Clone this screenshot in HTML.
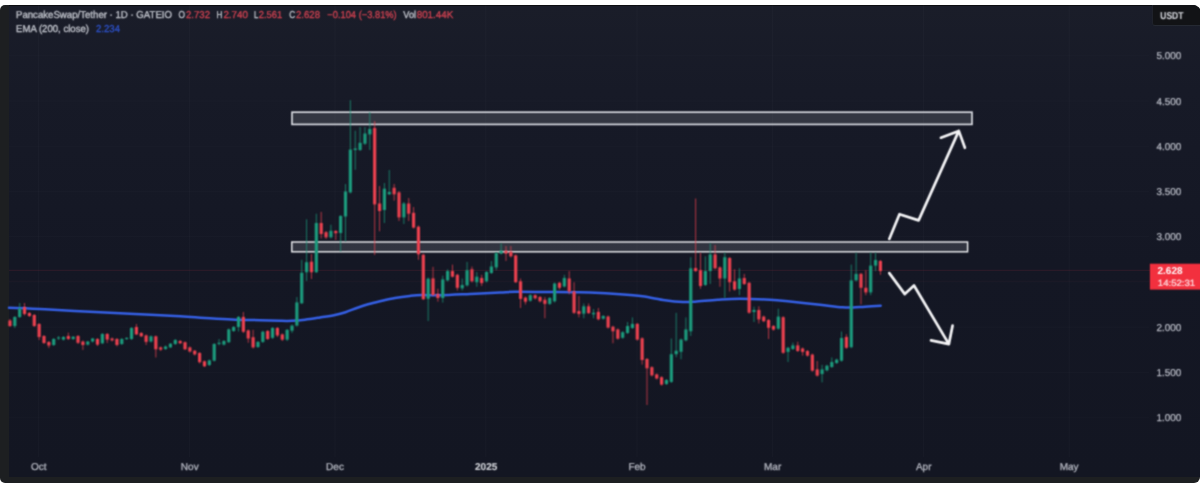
<!DOCTYPE html>
<html><head><meta charset="utf-8"><title>chart</title>
<style>
html,body{margin:0;padding:0;background:#fff;}
body{width:1200px;height:486px;overflow:hidden;position:relative;font-family:"Liberation Sans",sans-serif;}
#frame{position:absolute;left:0;top:5px;width:1200px;height:478px;background:#1d1f21;border-radius:5px 8px 6px 5px;overflow:hidden;}
#chart{position:absolute;left:8.8px;top:0;width:1192px;height:472.4px;background:linear-gradient(#1a1d29 0%,#171a27 18%,#141724 55%,#131622 100%);border-top:1.2px solid #0c0d11;box-sizing:border-box;}
svg{position:absolute;left:0;top:0;}
#txt{position:absolute;left:0;top:0;width:1200px;height:486px;filter:url(#b);}
</style></head><body>
<div id="frame"><div id="chart"></div></div>
<svg width="1200" height="486" viewBox="0 0 1200 486" shape-rendering="geometricPrecision">
<defs><filter id="b" x="0" y="0" width="1200" height="486" filterUnits="userSpaceOnUse" color-interpolation-filters="sRGB"><feConvolveMatrix order="3" kernelMatrix="1 2 1 2 6 2 1 2 1" divisor="18" edgeMode="duplicate"/></filter><filter id="c" x="0" y="0" width="1200" height="486" filterUnits="userSpaceOnUse" color-interpolation-filters="sRGB"><feConvolveMatrix order="3" kernelMatrix="1 2 1 2 4 2 1 2 1" divisor="16" edgeMode="duplicate"/></filter></defs>
<g><rect x="37.8" y="5" width="1" height="452" fill="#ffffff" fill-opacity="0.028"/><rect x="189.2" y="5" width="1" height="452" fill="#ffffff" fill-opacity="0.028"/><rect x="334.5" y="5" width="1" height="452" fill="#ffffff" fill-opacity="0.028"/><rect x="485.3" y="5" width="1" height="452" fill="#ffffff" fill-opacity="0.028"/><rect x="636.5" y="5" width="1" height="452" fill="#ffffff" fill-opacity="0.028"/><rect x="772.2" y="5" width="1" height="452" fill="#ffffff" fill-opacity="0.028"/><rect x="923.2" y="5" width="1" height="452" fill="#ffffff" fill-opacity="0.028"/><rect x="1068.7" y="5" width="1" height="452" fill="#ffffff" fill-opacity="0.028"/><rect x="9" y="55.3" width="1140" height="1" fill="#ffffff" fill-opacity="0.018"/><rect x="9" y="100.5" width="1140" height="1" fill="#ffffff" fill-opacity="0.018"/><rect x="9" y="145.7" width="1140" height="1" fill="#ffffff" fill-opacity="0.018"/><rect x="9" y="190.9" width="1140" height="1" fill="#ffffff" fill-opacity="0.018"/><rect x="9" y="236.1" width="1140" height="1" fill="#ffffff" fill-opacity="0.018"/><rect x="9" y="281.4" width="1140" height="1" fill="#ffffff" fill-opacity="0.018"/><rect x="9" y="326.6" width="1140" height="1" fill="#ffffff" fill-opacity="0.018"/><rect x="9" y="371.8" width="1140" height="1" fill="#ffffff" fill-opacity="0.018"/><rect x="9" y="416.7" width="1140" height="1" fill="#ffffff" fill-opacity="0.018"/></g>
<line x1="9" y1="270.3" x2="1150" y2="270.3" stroke="#5d2433" stroke-width="1" opacity="0.38"/>
<line x1="9" y1="281.2" x2="1150" y2="281.2" stroke="#4a2230" stroke-width="1" opacity="0.12"/>
<g filter="url(#b)">
<rect x="292" y="112.2" width="680" height="12.2" fill="#80848c" fill-opacity="0.27" stroke="#dfe1e8" stroke-width="1.6"/>
<rect x="291.8" y="242" width="675.8" height="9.8" fill="#80848c" fill-opacity="0.27" stroke="#f2f3f6" stroke-width="1.4"/>
<path d="M9,307.7 C15,307.95 31.5,308.52 45,309.2 C58.5,309.88 75,310.95 90,311.75 C105,312.55 120,313.25 135,314 C150,314.75 168.33,315.6 180,316.25 C191.67,316.9 196.33,317.38 205,317.9 C213.67,318.42 222.83,319.02 232,319.4 C241.17,319.78 252,319.97 260,320.2 C268,320.43 274.67,320.7 280,320.8 C285.33,320.9 287.83,320.98 292,320.8 C296.17,320.62 300.33,320.25 305,319.7 C309.67,319.15 315,318.28 320,317.5 C325,316.72 330.75,315.88 335,315 C339.25,314.12 341.75,313.42 345.5,312.2 C349.25,310.98 353.75,309.02 357.5,307.7 C361.25,306.38 364.25,305.37 368,304.3 C371.75,303.23 375.5,302.35 380,301.3 C384.5,300.25 390,298.9 395,298 C400,297.1 405.5,296.4 410,295.9 C414.5,295.4 417,295.1 422,295 C427,294.9 432,295.47 440,295.3 C448,295.13 460,294.47 470,294 C480,293.53 492.5,292.87 500,292.5 C507.5,292.13 507.5,291.88 515,291.8 C522.5,291.72 535,291.93 545,292 C555,292.07 567.5,292.12 575,292.2 C582.5,292.28 582.5,292.17 590,292.5 C597.5,292.83 611.25,293.57 620,294.2 C628.75,294.83 635,295.3 642.5,296.3 C650,297.3 658.25,299.25 665,300.2 C671.75,301.15 678,301.75 683,302 C688,302.25 689.25,302.07 695,301.7 C700.75,301.32 710,300.25 717.5,299.75 C725,299.25 731.25,298.7 740,298.7 C748.75,298.7 761.67,299.28 770,299.75 C778.33,300.22 781.67,300.67 790,301.5 C798.33,302.33 811.25,303.78 820,304.75 C828.75,305.72 837,306.84 842.5,307.3 C848,307.76 849.25,307.6 853,307.5 C856.75,307.4 860.38,306.98 865,306.7 C869.62,306.42 878.08,305.95 880.7,305.8" fill="none" stroke="#3560e6" stroke-width="2.5" stroke-linecap="round" stroke-linejoin="round"/>
</g>
<g filter="url(#c)">
<g opacity="0.75"><rect x="9.45" y="319" width="1" height="8" fill="#ea414f"/><rect x="14.31" y="316" width="1" height="12" fill="#1c9a7c"/><rect x="19.18" y="303" width="1" height="15" fill="#1c9a7c"/><rect x="24.04" y="303" width="1" height="12.5" fill="#ea414f"/><rect x="28.9" y="312" width="1" height="5" fill="#ea414f"/><rect x="33.77" y="314" width="1" height="13" fill="#ea414f"/><rect x="38.63" y="323" width="1" height="17" fill="#ea414f"/><rect x="43.49" y="335" width="1" height="9" fill="#ea414f"/><rect x="48.35" y="341" width="1" height="7" fill="#ea414f"/><rect x="53.22" y="338" width="1" height="8" fill="#1c9a7c"/><rect x="58.08" y="336" width="1" height="4" fill="#1c9a7c"/><rect x="62.94" y="336" width="1" height="4.5" fill="#1c9a7c"/><rect x="67.81" y="332.6" width="1" height="7.4" fill="#ea414f"/><rect x="72.67" y="336" width="1" height="4" fill="#1c9a7c"/><rect x="77.53" y="335" width="1" height="9" fill="#ea414f"/><rect x="82.4" y="340.5" width="1" height="9.5" fill="#ea414f"/><rect x="87.26" y="341" width="1" height="4.5" fill="#1c9a7c"/><rect x="92.12" y="338" width="1" height="4.5" fill="#1c9a7c"/><rect x="96.98" y="338" width="1" height="8" fill="#ea414f"/><rect x="101.85" y="333" width="1" height="11" fill="#1c9a7c"/><rect x="106.71" y="333" width="1" height="10" fill="#ea414f"/><rect x="111.57" y="337.5" width="1" height="4" fill="#ea414f"/><rect x="116.44" y="338" width="1" height="8.5" fill="#ea414f"/><rect x="121.3" y="338" width="1" height="7" fill="#1c9a7c"/><rect x="126.16" y="337" width="1" height="3" fill="#1c9a7c"/><rect x="131.03" y="327" width="1" height="13" fill="#1c9a7c"/><rect x="135.89" y="324" width="1" height="11" fill="#ea414f"/><rect x="140.75" y="332" width="1" height="5" fill="#ea414f"/><rect x="145.61" y="334.5" width="1" height="10.5" fill="#ea414f"/><rect x="150.48" y="335.5" width="1" height="7" fill="#1c9a7c"/><rect x="155.34" y="335.5" width="1" height="22" fill="#ea414f"/><rect x="160.2" y="346.5" width="1" height="4.5" fill="#ea414f"/><rect x="165.07" y="345.5" width="1" height="4.5" fill="#1c9a7c"/><rect x="169.93" y="343" width="1" height="5" fill="#1c9a7c"/><rect x="174.79" y="339" width="1" height="6" fill="#1c9a7c"/><rect x="179.66" y="340" width="1" height="4" fill="#ea414f"/><rect x="184.52" y="341.5" width="1" height="8.5" fill="#ea414f"/><rect x="189.38" y="346.5" width="1" height="6" fill="#ea414f"/><rect x="194.24" y="350" width="1" height="5.5" fill="#ea414f"/><rect x="199.11" y="352" width="1" height="11.5" fill="#ea414f"/><rect x="203.97" y="360.5" width="1" height="6.5" fill="#ea414f"/><rect x="208.83" y="359.5" width="1" height="6.5" fill="#1c9a7c"/><rect x="213.7" y="343" width="1" height="18.5" fill="#1c9a7c"/><rect x="218.56" y="339" width="1" height="6.5" fill="#1c9a7c"/><rect x="223.42" y="340" width="1" height="5.5" fill="#1c9a7c"/><rect x="228.28" y="328.5" width="1" height="14.5" fill="#1c9a7c"/><rect x="233.15" y="326" width="1" height="6" fill="#1c9a7c"/><rect x="238.01" y="316" width="1" height="15.5" fill="#1c9a7c"/><rect x="242.87" y="312" width="1" height="21" fill="#ea414f"/><rect x="247.74" y="329.5" width="1" height="13.3" fill="#ea414f"/><rect x="252.6" y="329.8" width="1" height="18.7" fill="#ea414f"/><rect x="257.46" y="341" width="1" height="7" fill="#1c9a7c"/><rect x="262.33" y="330.7" width="1" height="12.3" fill="#1c9a7c"/><rect x="267.19" y="330" width="1" height="10" fill="#ea414f"/><rect x="272.05" y="327" width="1" height="12" fill="#1c9a7c"/><rect x="276.92" y="327" width="1" height="10" fill="#ea414f"/><rect x="281.78" y="333.5" width="1" height="7.5" fill="#ea414f"/><rect x="286.64" y="329" width="1" height="12" fill="#1c9a7c"/><rect x="291.5" y="324.5" width="1" height="8.5" fill="#1c9a7c"/><rect x="296.37" y="297" width="1" height="29.5" fill="#1c9a7c"/><rect x="301.23" y="259.8" width="1" height="44.2" fill="#1c9a7c"/><rect x="306.09" y="219.3" width="1" height="61.7" fill="#1c9a7c"/><rect x="310.96" y="254" width="1" height="25" fill="#ea414f"/><rect x="315.82" y="213.7" width="1" height="59.3" fill="#1c9a7c"/><rect x="320.68" y="211.9" width="1" height="26.6" fill="#ea414f"/><rect x="325.55" y="231" width="1" height="8" fill="#ea414f"/><rect x="330.41" y="224.7" width="1" height="13.8" fill="#1c9a7c"/><rect x="335.27" y="230" width="1" height="10" fill="#ea414f"/><rect x="340.13" y="215" width="1" height="36.5" fill="#1c9a7c"/><rect x="345" y="184" width="1" height="57.5" fill="#1c9a7c"/><rect x="349.86" y="100.2" width="1" height="93.3" fill="#1c9a7c"/><rect x="354.72" y="130.7" width="1" height="39.1" fill="#1c9a7c"/><rect x="359.59" y="127" width="1" height="24" fill="#1c9a7c"/><rect x="364.45" y="127" width="1" height="18" fill="#1c9a7c"/><rect x="369.31" y="112" width="1" height="38" fill="#1c9a7c"/><rect x="374.18" y="121" width="1" height="134" fill="#ea414f"/><rect x="379.04" y="186" width="1" height="45.3" fill="#ea414f"/><rect x="383.9" y="183" width="1" height="40" fill="#1c9a7c"/><rect x="388.76" y="170" width="1" height="25" fill="#1c9a7c"/><rect x="393.63" y="184" width="1" height="16.7" fill="#ea414f"/><rect x="398.49" y="191" width="1" height="30" fill="#ea414f"/><rect x="403.35" y="202" width="1" height="22" fill="#1c9a7c"/><rect x="408.22" y="198" width="1" height="23" fill="#ea414f"/><rect x="413.08" y="207" width="1" height="21.5" fill="#ea414f"/><rect x="417.94" y="225.5" width="1" height="34.3" fill="#ea414f"/><rect x="422.81" y="253.5" width="1" height="46.5" fill="#ea414f"/><rect x="427.67" y="277.5" width="1" height="43.5" fill="#1c9a7c"/><rect x="432.53" y="266.8" width="1" height="29.2" fill="#ea414f"/><rect x="437.39" y="288.7" width="1" height="13" fill="#ea414f"/><rect x="442.26" y="275.7" width="1" height="26.9" fill="#1c9a7c"/><rect x="447.12" y="269.3" width="1" height="12.2" fill="#1c9a7c"/><rect x="451.98" y="264.6" width="1" height="12.9" fill="#ea414f"/><rect x="456.85" y="273.8" width="1" height="16.7" fill="#ea414f"/><rect x="461.71" y="278.5" width="1" height="12" fill="#1c9a7c"/><rect x="466.57" y="261.9" width="1" height="24.6" fill="#1c9a7c"/><rect x="471.44" y="266.5" width="1" height="16" fill="#ea414f"/><rect x="476.3" y="272" width="1" height="14.8" fill="#1c9a7c"/><rect x="481.16" y="274.8" width="1" height="11.2" fill="#ea414f"/><rect x="486.02" y="271" width="1" height="11.5" fill="#1c9a7c"/><rect x="490.89" y="261" width="1" height="13" fill="#1c9a7c"/><rect x="495.75" y="252" width="1" height="18.2" fill="#1c9a7c"/><rect x="500.61" y="243.3" width="1" height="11.2" fill="#1c9a7c"/><rect x="505.48" y="246" width="1" height="15" fill="#ea414f"/><rect x="510.34" y="246" width="1" height="11.5" fill="#ea414f"/><rect x="515.2" y="254.5" width="1" height="28.5" fill="#ea414f"/><rect x="520.07" y="278.5" width="1" height="29.5" fill="#ea414f"/><rect x="524.93" y="296.5" width="1" height="8" fill="#ea414f"/><rect x="529.79" y="294" width="1" height="7.7" fill="#1c9a7c"/><rect x="534.65" y="294.2" width="1" height="5.3" fill="#ea414f"/><rect x="539.52" y="296" width="1" height="6.5" fill="#ea414f"/><rect x="544.38" y="297" width="1" height="21.3" fill="#ea414f"/><rect x="549.24" y="297" width="1" height="8" fill="#1c9a7c"/><rect x="554.11" y="282.5" width="1" height="20" fill="#1c9a7c"/><rect x="558.97" y="281.8" width="1" height="7.8" fill="#ea414f"/><rect x="563.83" y="274.8" width="1" height="12.7" fill="#1c9a7c"/><rect x="568.7" y="271" width="1" height="23.3" fill="#ea414f"/><rect x="573.56" y="282.2" width="1" height="31.8" fill="#ea414f"/><rect x="578.42" y="296" width="1" height="21.4" fill="#ea414f"/><rect x="583.28" y="303.5" width="1" height="14.8" fill="#1c9a7c"/><rect x="588.15" y="303.5" width="1" height="10.5" fill="#ea414f"/><rect x="593.01" y="309" width="1" height="9.3" fill="#1c9a7c"/><rect x="597.87" y="308" width="1" height="12.3" fill="#ea414f"/><rect x="602.74" y="315" width="1" height="4.7" fill="#1c9a7c"/><rect x="607.6" y="315.5" width="1" height="13" fill="#ea414f"/><rect x="612.46" y="325.7" width="1" height="17.6" fill="#ea414f"/><rect x="617.33" y="328.4" width="1" height="11.3" fill="#ea414f"/><rect x="622.19" y="331.2" width="1" height="7.6" fill="#1c9a7c"/><rect x="627.05" y="322" width="1" height="12" fill="#1c9a7c"/><rect x="631.91" y="317.4" width="1" height="11.6" fill="#1c9a7c"/><rect x="636.78" y="322.9" width="1" height="17.7" fill="#ea414f"/><rect x="641.64" y="337.3" width="1" height="27.3" fill="#ea414f"/><rect x="646.5" y="358" width="1" height="47" fill="#ea414f"/><rect x="651.37" y="366.2" width="1" height="10.2" fill="#ea414f"/><rect x="656.23" y="373.4" width="1" height="6.1" fill="#ea414f"/><rect x="661.09" y="376.2" width="1" height="9.4" fill="#ea414f"/><rect x="665.96" y="379" width="1" height="6" fill="#1c9a7c"/><rect x="670.82" y="338.5" width="1" height="44.5" fill="#1c9a7c"/><rect x="675.68" y="312.8" width="1" height="44.4" fill="#1c9a7c"/><rect x="680.54" y="338.5" width="1" height="20.8" fill="#1c9a7c"/><rect x="685.41" y="317.4" width="1" height="24" fill="#1c9a7c"/><rect x="690.27" y="257.2" width="1" height="78.8" fill="#1c9a7c"/><rect x="695.13" y="198.5" width="1" height="73.5" fill="#ea414f"/><rect x="700" y="252.6" width="1" height="36.1" fill="#ea414f"/><rect x="704.86" y="256.3" width="1" height="29.7" fill="#1c9a7c"/><rect x="709.72" y="243.3" width="1" height="40.7" fill="#1c9a7c"/><rect x="714.59" y="245" width="1" height="24.3" fill="#ea414f"/><rect x="719.45" y="266.4" width="1" height="20.4" fill="#ea414f"/><rect x="724.31" y="252.6" width="1" height="45.4" fill="#1c9a7c"/><rect x="729.17" y="257" width="1" height="34.5" fill="#ea414f"/><rect x="734.04" y="269.3" width="1" height="21.3" fill="#ea414f"/><rect x="738.9" y="268.3" width="1" height="26.9" fill="#1c9a7c"/><rect x="743.76" y="273.9" width="1" height="11.1" fill="#ea414f"/><rect x="748.63" y="281.8" width="1" height="31.9" fill="#ea414f"/><rect x="753.49" y="306.7" width="1" height="15.3" fill="#1c9a7c"/><rect x="758.35" y="306.3" width="1" height="17.2" fill="#ea414f"/><rect x="763.22" y="315.6" width="1" height="6.6" fill="#ea414f"/><rect x="768.08" y="319" width="1" height="20" fill="#ea414f"/><rect x="772.94" y="325" width="1" height="5.6" fill="#ea414f"/><rect x="777.8" y="308.7" width="1" height="21" fill="#1c9a7c"/><rect x="782.67" y="316.2" width="1" height="37.6" fill="#ea414f"/><rect x="787.53" y="346.8" width="1" height="15.2" fill="#1c9a7c"/><rect x="792.39" y="342.6" width="1" height="7.4" fill="#1c9a7c"/><rect x="797.26" y="341.7" width="1" height="10.3" fill="#ea414f"/><rect x="802.12" y="347.5" width="1" height="8.1" fill="#ea414f"/><rect x="806.98" y="350" width="1" height="6.6" fill="#ea414f"/><rect x="811.85" y="353.6" width="1" height="18.1" fill="#ea414f"/><rect x="816.71" y="361" width="1" height="15.6" fill="#ea414f"/><rect x="821.57" y="364.8" width="1" height="17.6" fill="#1c9a7c"/><rect x="826.43" y="364.7" width="1" height="6.7" fill="#1c9a7c"/><rect x="831.3" y="357.4" width="1" height="10.6" fill="#1c9a7c"/><rect x="836.16" y="358.6" width="1" height="5.4" fill="#1c9a7c"/><rect x="841.02" y="331.5" width="1" height="30.2" fill="#1c9a7c"/><rect x="845.89" y="334.3" width="1" height="14.5" fill="#ea414f"/><rect x="850.75" y="264.6" width="1" height="83.6" fill="#1c9a7c"/><rect x="855.61" y="252.6" width="1" height="28.8" fill="#1c9a7c"/><rect x="860.48" y="272.9" width="1" height="31.5" fill="#ea414f"/><rect x="865.34" y="270.2" width="1" height="25" fill="#ea414f"/><rect x="870.2" y="252.6" width="1" height="42.6" fill="#1c9a7c"/><rect x="875.06" y="252.6" width="1" height="18.5" fill="#1c9a7c"/><rect x="879.93" y="260" width="1" height="14.8" fill="#ea414f"/></g>
<g><rect x="8.35" y="320.5" width="3.2" height="5.5" fill="#ea414f"/><rect x="13.21" y="317" width="3.2" height="9" fill="#1c9a7c"/><rect x="18.08" y="308.5" width="3.2" height="8.5" fill="#1c9a7c"/><rect x="22.94" y="307" width="3.2" height="7" fill="#ea414f"/><rect x="27.8" y="313" width="3.2" height="3" fill="#ea414f"/><rect x="32.66" y="315" width="3.2" height="11" fill="#ea414f"/><rect x="37.53" y="324" width="3.2" height="13" fill="#ea414f"/><rect x="42.39" y="336" width="3.2" height="7" fill="#ea414f"/><rect x="47.25" y="342" width="3.2" height="3.5" fill="#ea414f"/><rect x="52.12" y="339" width="3.2" height="6" fill="#1c9a7c"/><rect x="56.98" y="337.5" width="3.2" height="1" fill="#1c9a7c"/><rect x="61.84" y="337" width="3.2" height="2.6" fill="#1c9a7c"/><rect x="66.71" y="336" width="3.2" height="3" fill="#ea414f"/><rect x="71.57" y="336.7" width="3.2" height="2.3" fill="#1c9a7c"/><rect x="76.43" y="336" width="3.2" height="6.8" fill="#ea414f"/><rect x="81.3" y="341.5" width="3.2" height="3.5" fill="#ea414f"/><rect x="86.16" y="341.5" width="3.2" height="3.1" fill="#1c9a7c"/><rect x="91.02" y="338.5" width="3.2" height="3" fill="#1c9a7c"/><rect x="95.88" y="339" width="3.2" height="5.6" fill="#ea414f"/><rect x="100.75" y="334" width="3.2" height="9.3" fill="#1c9a7c"/><rect x="105.61" y="334" width="3.2" height="5.6" fill="#ea414f"/><rect x="110.47" y="338.5" width="3.2" height="1.9" fill="#ea414f"/><rect x="115.34" y="339" width="3.2" height="6" fill="#ea414f"/><rect x="120.2" y="339" width="3.2" height="5" fill="#1c9a7c"/><rect x="125.06" y="338" width="3.2" height="1" fill="#1c9a7c"/><rect x="129.93" y="328" width="3.2" height="11" fill="#1c9a7c"/><rect x="134.79" y="327" width="3.2" height="7.4" fill="#ea414f"/><rect x="139.65" y="333" width="3.2" height="3.3" fill="#ea414f"/><rect x="144.51" y="335.4" width="3.2" height="6.5" fill="#ea414f"/><rect x="149.38" y="336.3" width="3.2" height="5.2" fill="#1c9a7c"/><rect x="154.24" y="336.3" width="3.2" height="13" fill="#ea414f"/><rect x="159.1" y="347.4" width="3.2" height="2.2" fill="#ea414f"/><rect x="163.97" y="346.5" width="3.2" height="2.5" fill="#1c9a7c"/><rect x="168.83" y="343.7" width="3.2" height="3.7" fill="#1c9a7c"/><rect x="173.69" y="340" width="3.2" height="4" fill="#1c9a7c"/><rect x="178.56" y="341" width="3.2" height="2.3" fill="#ea414f"/><rect x="183.42" y="342.2" width="3.2" height="7.1" fill="#ea414f"/><rect x="188.28" y="347.4" width="3.2" height="4.1" fill="#ea414f"/><rect x="193.14" y="350.7" width="3.2" height="3.7" fill="#ea414f"/><rect x="198.01" y="353" width="3.2" height="9.2" fill="#ea414f"/><rect x="202.87" y="361.3" width="3.2" height="5" fill="#ea414f"/><rect x="207.73" y="360.4" width="3.2" height="4.6" fill="#1c9a7c"/><rect x="212.6" y="344" width="3.2" height="16.7" fill="#1c9a7c"/><rect x="217.46" y="342.8" width="3.2" height="1.2" fill="#1c9a7c"/><rect x="222.32" y="341" width="3.2" height="3.6" fill="#1c9a7c"/><rect x="227.19" y="329.3" width="3.2" height="12.9" fill="#1c9a7c"/><rect x="232.05" y="327" width="3.2" height="4" fill="#1c9a7c"/><rect x="236.91" y="316.9" width="3.2" height="10.1" fill="#1c9a7c"/><rect x="241.77" y="316.9" width="3.2" height="14.8" fill="#ea414f"/><rect x="246.64" y="330.4" width="3.2" height="8.1" fill="#ea414f"/><rect x="251.5" y="337.2" width="3.2" height="10.2" fill="#ea414f"/><rect x="256.36" y="341.9" width="3.2" height="5.1" fill="#1c9a7c"/><rect x="261.23" y="331.7" width="3.2" height="10.2" fill="#1c9a7c"/><rect x="266.09" y="331" width="3.2" height="8" fill="#ea414f"/><rect x="270.95" y="328" width="3.2" height="9.8" fill="#1c9a7c"/><rect x="275.81" y="328" width="3.2" height="7.4" fill="#ea414f"/><rect x="280.68" y="334.4" width="3.2" height="5.2" fill="#ea414f"/><rect x="285.54" y="329.8" width="3.2" height="9.8" fill="#1c9a7c"/><rect x="290.4" y="325.6" width="3.2" height="5.1" fill="#1c9a7c"/><rect x="295.27" y="302.4" width="3.2" height="23.2" fill="#1c9a7c"/><rect x="300.13" y="272.8" width="3.2" height="30.5" fill="#1c9a7c"/><rect x="304.99" y="262.2" width="3.2" height="10" fill="#1c9a7c"/><rect x="309.86" y="261.7" width="3.2" height="10.5" fill="#ea414f"/><rect x="314.72" y="223" width="3.2" height="49.2" fill="#1c9a7c"/><rect x="319.58" y="223" width="3.2" height="11" fill="#ea414f"/><rect x="324.44" y="232.2" width="3.2" height="5.1" fill="#ea414f"/><rect x="329.31" y="230.8" width="3.2" height="6.5" fill="#1c9a7c"/><rect x="334.17" y="231" width="3.2" height="2.2" fill="#ea414f"/><rect x="339.03" y="216" width="3.2" height="17" fill="#1c9a7c"/><rect x="343.9" y="191.5" width="3.2" height="25" fill="#1c9a7c"/><rect x="348.76" y="149.6" width="3.2" height="42.8" fill="#1c9a7c"/><rect x="353.62" y="148.5" width="3.2" height="1.5" fill="#1c9a7c"/><rect x="358.49" y="142.8" width="3.2" height="7.2" fill="#1c9a7c"/><rect x="363.35" y="133.5" width="3.2" height="10.2" fill="#1c9a7c"/><rect x="368.21" y="128.9" width="3.2" height="5.5" fill="#1c9a7c"/><rect x="373.07" y="128" width="3.2" height="76.4" fill="#ea414f"/><rect x="377.94" y="203.5" width="3.2" height="7.5" fill="#ea414f"/><rect x="382.8" y="188.7" width="3.2" height="21.3" fill="#1c9a7c"/><rect x="387.66" y="192" width="3.2" height="2.3" fill="#1c9a7c"/><rect x="392.53" y="187.8" width="3.2" height="6.5" fill="#ea414f"/><rect x="397.39" y="192.4" width="3.2" height="25" fill="#ea414f"/><rect x="402.25" y="203.5" width="3.2" height="13.9" fill="#1c9a7c"/><rect x="407.12" y="203.5" width="3.2" height="10.2" fill="#ea414f"/><rect x="411.98" y="212.8" width="3.2" height="14.8" fill="#ea414f"/><rect x="416.84" y="226.7" width="3.2" height="27.6" fill="#ea414f"/><rect x="421.7" y="254.8" width="3.2" height="44.4" fill="#ea414f"/><rect x="426.57" y="278.7" width="3.2" height="20.1" fill="#1c9a7c"/><rect x="431.43" y="278.4" width="3.2" height="16.7" fill="#ea414f"/><rect x="436.29" y="293.9" width="3.2" height="4.1" fill="#ea414f"/><rect x="441.16" y="279.4" width="3.2" height="18.6" fill="#1c9a7c"/><rect x="446.02" y="271" width="3.2" height="9.4" fill="#1c9a7c"/><rect x="450.88" y="271" width="3.2" height="5.7" fill="#ea414f"/><rect x="455.75" y="274.8" width="3.2" height="13" fill="#ea414f"/><rect x="460.61" y="285" width="3.2" height="3.3" fill="#1c9a7c"/><rect x="465.47" y="270.2" width="3.2" height="15.2" fill="#1c9a7c"/><rect x="470.33" y="269.3" width="3.2" height="12" fill="#ea414f"/><rect x="475.2" y="276.7" width="3.2" height="5.5" fill="#1c9a7c"/><rect x="480.06" y="278" width="3.2" height="5.1" fill="#ea414f"/><rect x="484.92" y="272" width="3.2" height="9.3" fill="#1c9a7c"/><rect x="489.79" y="266.5" width="3.2" height="6.5" fill="#1c9a7c"/><rect x="494.65" y="253.1" width="3.2" height="14.3" fill="#1c9a7c"/><rect x="499.51" y="250.7" width="3.2" height="2.8" fill="#1c9a7c"/><rect x="504.38" y="250.7" width="3.2" height="2.8" fill="#ea414f"/><rect x="509.24" y="251.7" width="3.2" height="4.6" fill="#ea414f"/><rect x="514.1" y="255.4" width="3.2" height="26.8" fill="#ea414f"/><rect x="518.97" y="281.3" width="3.2" height="17.6" fill="#ea414f"/><rect x="523.83" y="297.6" width="3.2" height="4.1" fill="#ea414f"/><rect x="528.69" y="295.2" width="3.2" height="5.5" fill="#1c9a7c"/><rect x="533.55" y="295.2" width="3.2" height="3.1" fill="#ea414f"/><rect x="538.42" y="297" width="3.2" height="4.3" fill="#ea414f"/><rect x="543.28" y="299.8" width="3.2" height="4.1" fill="#ea414f"/><rect x="548.14" y="298" width="3.2" height="5.9" fill="#1c9a7c"/><rect x="553.01" y="283.5" width="3.2" height="17.8" fill="#1c9a7c"/><rect x="557.87" y="282.8" width="3.2" height="5" fill="#ea414f"/><rect x="562.73" y="278" width="3.2" height="8.5" fill="#1c9a7c"/><rect x="567.6" y="278.5" width="3.2" height="13" fill="#ea414f"/><rect x="572.46" y="291.5" width="3.2" height="21.3" fill="#ea414f"/><rect x="577.32" y="311" width="3.2" height="3" fill="#ea414f"/><rect x="582.18" y="306.3" width="3.2" height="7.4" fill="#1c9a7c"/><rect x="587.05" y="306.3" width="3.2" height="6.8" fill="#ea414f"/><rect x="591.91" y="312.8" width="3.2" height="1.5" fill="#1c9a7c"/><rect x="596.77" y="311.9" width="3.2" height="7.4" fill="#ea414f"/><rect x="601.64" y="316" width="3.2" height="2.7" fill="#1c9a7c"/><rect x="606.5" y="316.5" width="3.2" height="11.1" fill="#ea414f"/><rect x="611.36" y="326.7" width="3.2" height="4.6" fill="#ea414f"/><rect x="616.23" y="329.4" width="3.2" height="9.3" fill="#ea414f"/><rect x="621.09" y="332.2" width="3.2" height="5.6" fill="#1c9a7c"/><rect x="625.95" y="326" width="3.2" height="7" fill="#1c9a7c"/><rect x="630.81" y="323.9" width="3.2" height="4.1" fill="#1c9a7c"/><rect x="635.68" y="323.9" width="3.2" height="15.7" fill="#ea414f"/><rect x="640.54" y="338.3" width="3.2" height="21.7" fill="#ea414f"/><rect x="645.4" y="359" width="3.2" height="9.3" fill="#ea414f"/><rect x="650.27" y="367.2" width="3.2" height="8.2" fill="#ea414f"/><rect x="655.13" y="374.4" width="3.2" height="4.1" fill="#ea414f"/><rect x="659.99" y="377.2" width="3.2" height="7.4" fill="#ea414f"/><rect x="664.86" y="380" width="3.2" height="4" fill="#1c9a7c"/><rect x="669.72" y="354.2" width="3.2" height="27.7" fill="#1c9a7c"/><rect x="674.58" y="350.7" width="3.2" height="3.5" fill="#1c9a7c"/><rect x="679.44" y="339.5" width="3.2" height="12.3" fill="#1c9a7c"/><rect x="684.31" y="329.4" width="3.2" height="11" fill="#1c9a7c"/><rect x="689.17" y="268.3" width="3.2" height="63" fill="#1c9a7c"/><rect x="694.03" y="268" width="3.2" height="3" fill="#ea414f"/><rect x="698.9" y="270.2" width="3.2" height="15.8" fill="#ea414f"/><rect x="703.76" y="271" width="3.2" height="14" fill="#1c9a7c"/><rect x="708.62" y="254.4" width="3.2" height="16.6" fill="#1c9a7c"/><rect x="713.49" y="254.4" width="3.2" height="13.9" fill="#ea414f"/><rect x="718.35" y="267.4" width="3.2" height="11.1" fill="#ea414f"/><rect x="723.21" y="257.2" width="3.2" height="21.3" fill="#1c9a7c"/><rect x="728.07" y="258" width="3.2" height="24.2" fill="#ea414f"/><rect x="732.94" y="281.3" width="3.2" height="8.3" fill="#ea414f"/><rect x="737.8" y="278.5" width="3.2" height="10.5" fill="#1c9a7c"/><rect x="742.66" y="278" width="3.2" height="6" fill="#ea414f"/><rect x="747.53" y="282.8" width="3.2" height="29.9" fill="#ea414f"/><rect x="752.39" y="310" width="3.2" height="2" fill="#1c9a7c"/><rect x="757.25" y="310" width="3.2" height="9.4" fill="#ea414f"/><rect x="762.12" y="316.6" width="3.2" height="4.6" fill="#ea414f"/><rect x="766.98" y="320" width="3.2" height="7.8" fill="#ea414f"/><rect x="771.84" y="326" width="3.2" height="3.6" fill="#ea414f"/><rect x="776.7" y="316.6" width="3.2" height="12.1" fill="#1c9a7c"/><rect x="781.57" y="317.2" width="3.2" height="35.6" fill="#ea414f"/><rect x="786.43" y="347.8" width="3.2" height="4.1" fill="#1c9a7c"/><rect x="791.29" y="345.4" width="3.2" height="3.6" fill="#1c9a7c"/><rect x="796.16" y="345.4" width="3.2" height="5.6" fill="#ea414f"/><rect x="801.02" y="348.5" width="3.2" height="3.4" fill="#ea414f"/><rect x="805.88" y="351" width="3.2" height="4.6" fill="#ea414f"/><rect x="810.75" y="354.6" width="3.2" height="16.1" fill="#ea414f"/><rect x="815.61" y="369.4" width="3.2" height="6.2" fill="#ea414f"/><rect x="820.47" y="369.4" width="3.2" height="4.6" fill="#1c9a7c"/><rect x="825.33" y="365.7" width="3.2" height="4.7" fill="#1c9a7c"/><rect x="830.2" y="362" width="3.2" height="5" fill="#1c9a7c"/><rect x="835.06" y="359.6" width="3.2" height="3.4" fill="#1c9a7c"/><rect x="839.92" y="338" width="3.2" height="22.7" fill="#1c9a7c"/><rect x="844.79" y="337" width="3.2" height="10.8" fill="#ea414f"/><rect x="849.65" y="280.4" width="3.2" height="66.8" fill="#1c9a7c"/><rect x="854.51" y="273.9" width="3.2" height="6.5" fill="#1c9a7c"/><rect x="859.38" y="273.9" width="3.2" height="13.9" fill="#ea414f"/><rect x="864.24" y="287.8" width="3.2" height="4.6" fill="#ea414f"/><rect x="869.1" y="265.6" width="3.2" height="26.8" fill="#1c9a7c"/><rect x="873.96" y="260" width="3.2" height="5.6" fill="#1c9a7c"/><rect x="878.83" y="261" width="3.2" height="10" fill="#ea414f"/></g>
</g>
<g filter="url(#b)">
<path d="M889.3,238.9 L899.5,214.2 L918.6,220.4 L958.8,130.9 M940.9,137.7 L958.8,130.9 L964.9,147.8" fill="none" stroke="#f4f4f6" stroke-width="2.7" stroke-linecap="round" stroke-linejoin="round"/>
<path d="M889.3,273.1 L904.8,294.1 L914,285.5 L948.9,344.1 M931,340.4 L948.9,344.1 L952.6,325.6" fill="none" stroke="#f4f4f6" stroke-width="2.7" stroke-linecap="round" stroke-linejoin="round"/>
</g>
</svg>
<div style="position:absolute;left:1152px;top:5px;width:48px;height:19.6px;background:#121316;border-radius:0 8px 0 3px;border-bottom:1px solid #252932;border-left:1px solid #1f222b;"></div>
<div id="txt"><svg width="1200" height="486" viewBox="0 0 1200 486" text-rendering="geometricPrecision" font-family="Liberation Sans, sans-serif">
<rect x="1149.9" y="263.7" width="51" height="25.9" fill="#f2303e"/>
<text x="16" y="17.8" font-size="10" fill="#c6c9d1" stroke="#c6c9d1" stroke-width="0.3" textLength="156" lengthAdjust="spacingAndGlyphs">PancakeSwap/Tether · 1D · GATEIO</text>
<text x="178.6" y="17.8" font-size="10" fill="#c6c9d1" stroke="#c6c9d1" stroke-width="0.3" textLength="6.5" lengthAdjust="spacingAndGlyphs">O</text>
<text x="186" y="17.8" font-size="10" fill="#d24251" stroke="#d24251" stroke-width="0.3" textLength="24" lengthAdjust="spacingAndGlyphs">2.732</text>
<text x="216.6" y="17.8" font-size="10" fill="#c6c9d1" stroke="#c6c9d1" stroke-width="0.3" textLength="5.9" lengthAdjust="spacingAndGlyphs">H</text>
<text x="223.4" y="17.8" font-size="10" fill="#d24251" stroke="#d24251" stroke-width="0.3" textLength="24.6" lengthAdjust="spacingAndGlyphs">2.740</text>
<text x="253.9" y="17.8" font-size="10" fill="#c6c9d1" stroke="#c6c9d1" stroke-width="0.3" textLength="4.3" lengthAdjust="spacingAndGlyphs">L</text>
<text x="258.8" y="17.8" font-size="10" fill="#d24251" stroke="#d24251" stroke-width="0.3" textLength="23.3" lengthAdjust="spacingAndGlyphs">2.561</text>
<text x="289.2" y="17.8" font-size="10" fill="#c6c9d1" stroke="#c6c9d1" stroke-width="0.3" textLength="6" lengthAdjust="spacingAndGlyphs">C</text>
<text x="296" y="17.8" font-size="10" fill="#d24251" stroke="#d24251" stroke-width="0.3" textLength="24" lengthAdjust="spacingAndGlyphs">2.628</text>
<text x="327.3" y="17.8" font-size="10" fill="#d24251" stroke="#d24251" stroke-width="0.3" textLength="69.4" lengthAdjust="spacingAndGlyphs">−0.104 (−3.81%)</text>
<text x="403.3" y="17.8" font-size="10" fill="#c6c9d1" stroke="#c6c9d1" stroke-width="0.3" textLength="12.7" lengthAdjust="spacingAndGlyphs">Vol</text>
<text x="416.7" y="17.8" font-size="10" fill="#d24251" stroke="#d24251" stroke-width="0.3" textLength="36.6" lengthAdjust="spacingAndGlyphs">801.44K</text>
<text x="16" y="31.7" font-size="10" fill="#c6c9d1" stroke="#c6c9d1" stroke-width="0.3" textLength="73" lengthAdjust="spacingAndGlyphs">EMA (200, close)</text>
<text x="96" y="31.7" font-size="10" fill="#2d52cc" stroke="#2d52cc" stroke-width="0.3" textLength="24" lengthAdjust="spacingAndGlyphs">2.234</text>
<text x="1160.3" y="18.6" font-size="10" fill="#d4d6db" stroke="#d4d6db" stroke-width="0.1" textLength="23" lengthAdjust="spacingAndGlyphs" font-weight="bold">USDT</text>
<text x="1157.4" y="273.9" font-size="10" fill="#ffffff" stroke="#ffffff" stroke-width="0" textLength="25.2" lengthAdjust="spacingAndGlyphs" font-weight="bold">2.628</text>
<text x="1157.8" y="285.9" font-size="9.0" fill="#ffe3e6" stroke="#ffe3e6" stroke-width="0.2" textLength="37.4" lengthAdjust="spacingAndGlyphs">14:52:31</text>
<text x="1156.5" y="59.4" font-size="10" fill="#b9bcc6" stroke="#b9bcc6" stroke-width="0.25" textLength="24.8" lengthAdjust="spacingAndGlyphs">5.000</text>
<text x="1156.5" y="104.6" font-size="10" fill="#b9bcc6" stroke="#b9bcc6" stroke-width="0.25" textLength="24.8" lengthAdjust="spacingAndGlyphs">4.500</text>
<text x="1156.5" y="149.8" font-size="10" fill="#b9bcc6" stroke="#b9bcc6" stroke-width="0.25" textLength="24.8" lengthAdjust="spacingAndGlyphs">4.000</text>
<text x="1156.5" y="195" font-size="10" fill="#b9bcc6" stroke="#b9bcc6" stroke-width="0.25" textLength="24.8" lengthAdjust="spacingAndGlyphs">3.500</text>
<text x="1156.5" y="240.3" font-size="10" fill="#b9bcc6" stroke="#b9bcc6" stroke-width="0.25" textLength="24.8" lengthAdjust="spacingAndGlyphs">3.000</text>
<text x="1156.5" y="330.8" font-size="10" fill="#b9bcc6" stroke="#b9bcc6" stroke-width="0.25" textLength="24.8" lengthAdjust="spacingAndGlyphs">2.000</text>
<text x="1156.5" y="376" font-size="10" fill="#b9bcc6" stroke="#b9bcc6" stroke-width="0.25" textLength="24.8" lengthAdjust="spacingAndGlyphs">1.500</text>
<text x="1156.5" y="421.2" font-size="10" fill="#b9bcc6" stroke="#b9bcc6" stroke-width="0.25" textLength="24.8" lengthAdjust="spacingAndGlyphs">1.000</text>
<text x="38.85" y="470.4" font-size="10" fill="#b9bcc6" stroke="#b9bcc6" stroke-width="0.25" text-anchor="middle">Oct</text>
<text x="189.75" y="470.4" font-size="10" fill="#b9bcc6" stroke="#b9bcc6" stroke-width="0.25" text-anchor="middle">Nov</text>
<text x="335" y="470.4" font-size="10" fill="#b9bcc6" stroke="#b9bcc6" stroke-width="0.25" text-anchor="middle">Dec</text>
<text x="637" y="470.4" font-size="10" fill="#b9bcc6" stroke="#b9bcc6" stroke-width="0.25" text-anchor="middle">Feb</text>
<text x="772.65" y="470.4" font-size="10" fill="#b9bcc6" stroke="#b9bcc6" stroke-width="0.25" text-anchor="middle">Mar</text>
<text x="923.7" y="470.4" font-size="10" fill="#b9bcc6" stroke="#b9bcc6" stroke-width="0.25" text-anchor="middle">Apr</text>
<text x="1069.15" y="470.4" font-size="10" fill="#b9bcc6" stroke="#b9bcc6" stroke-width="0.25" text-anchor="middle">May</text>
<text x="486.15" y="470.4" font-size="10" fill="#d4d6db" stroke="#d4d6db" stroke-width="0.1" font-weight="bold" text-anchor="middle">2025</text>
</svg></div>
</body></html>
